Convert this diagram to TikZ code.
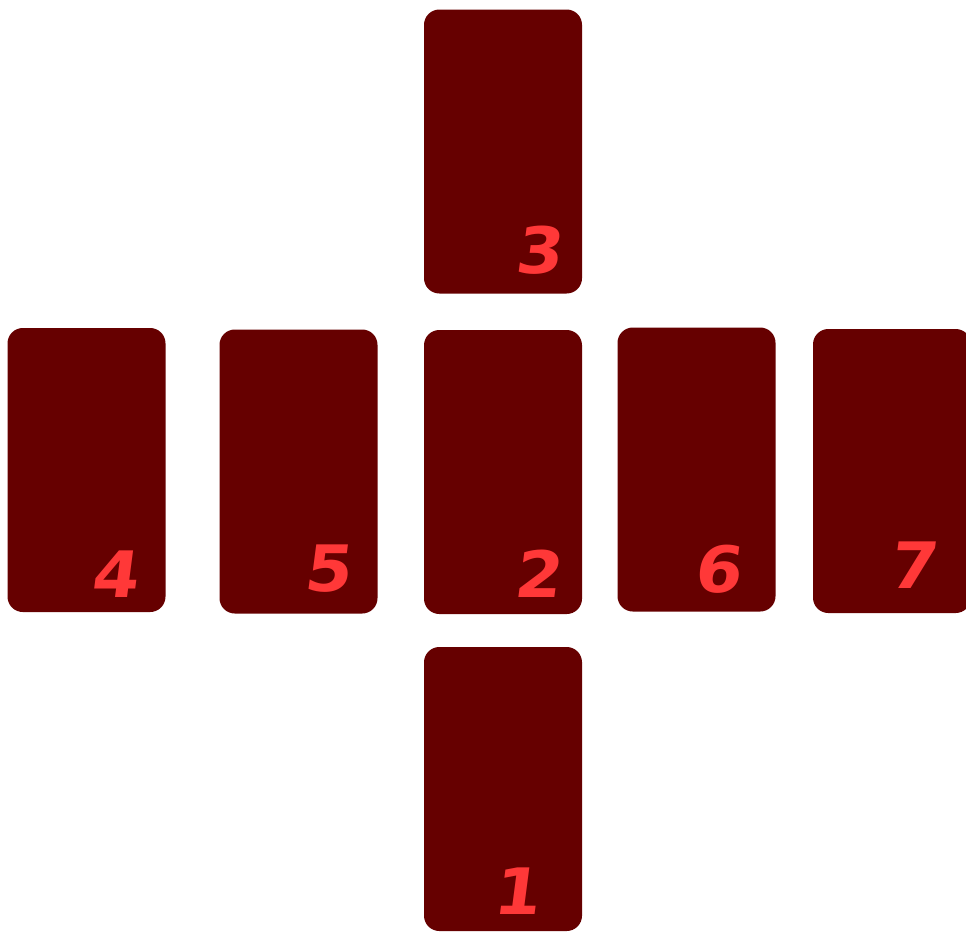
\documentclass[tikz,border=0pt]{standalone}
\usepackage{fontspec,xcolor,tikz}
\newfontfamily\zahlfont[BoldFeatures={FakeSlant=0.13,FakeStretch=1.06}]{DejaVu Sans}
\definecolor{karte}{HTML}{660000}
\definecolor{ziffer}{HTML}{FF3838}
\newcommand{\zahl}{\zahlfont\bfseries\fontsize{48}{48}\selectfont}
\tikzset{kartenfeld/.style={rectangle,fill=karte,inner sep=0,
    minimum width=118.5pt,minimum height=213pt,rounded corners=11.5pt},
  nummer/.style={inner sep=0,text=ziffer,font=\zahl}}
\begin{document}
\begin{tikzpicture}[x=0.75pt,y=-0.75pt]
\useasboundingbox (0,0) rectangle (966,932);
% Kreuz in der Mitte
\node[kartenfeld] (k3) at (503,151.5) {};
\node[kartenfeld] (k2) at (503,472) {};
\node[kartenfeld] (k1) at (503,789) {};
% Reihe links und rechts
\node[kartenfeld] (k4) at (86.5,470) {};
\node[kartenfeld] (k5) at (298.5,471.5) {};
\node[kartenfeld] (k6) at (696.5,469.5) {};
\node[kartenfeld] (k7) at (892,471) {};
% Nummern
\node[nummer] (n3) at ([shift={(35.5,99)}]k3.center) {3};
\node[nummer] (n2) at ([shift={(34.5,101.5)}]k2.center) {2};
\node[nummer] (n1) at ([shift={(13.5,102)}]k1.center) {1};
\node[nummer] (n4) at ([shift={(28,104.5)}]k4.center) {4};
\node[nummer] (n5) at ([shift={(28.5,97.5)}]k5.center) {5};
\node[nummer] (n6) at ([shift={(20.5,99.5)}]k6.center) {6};
\node[nummer] (n7) at ([shift={(20,94.5)}]k7.center) {7};
\end{tikzpicture}
\end{document}
